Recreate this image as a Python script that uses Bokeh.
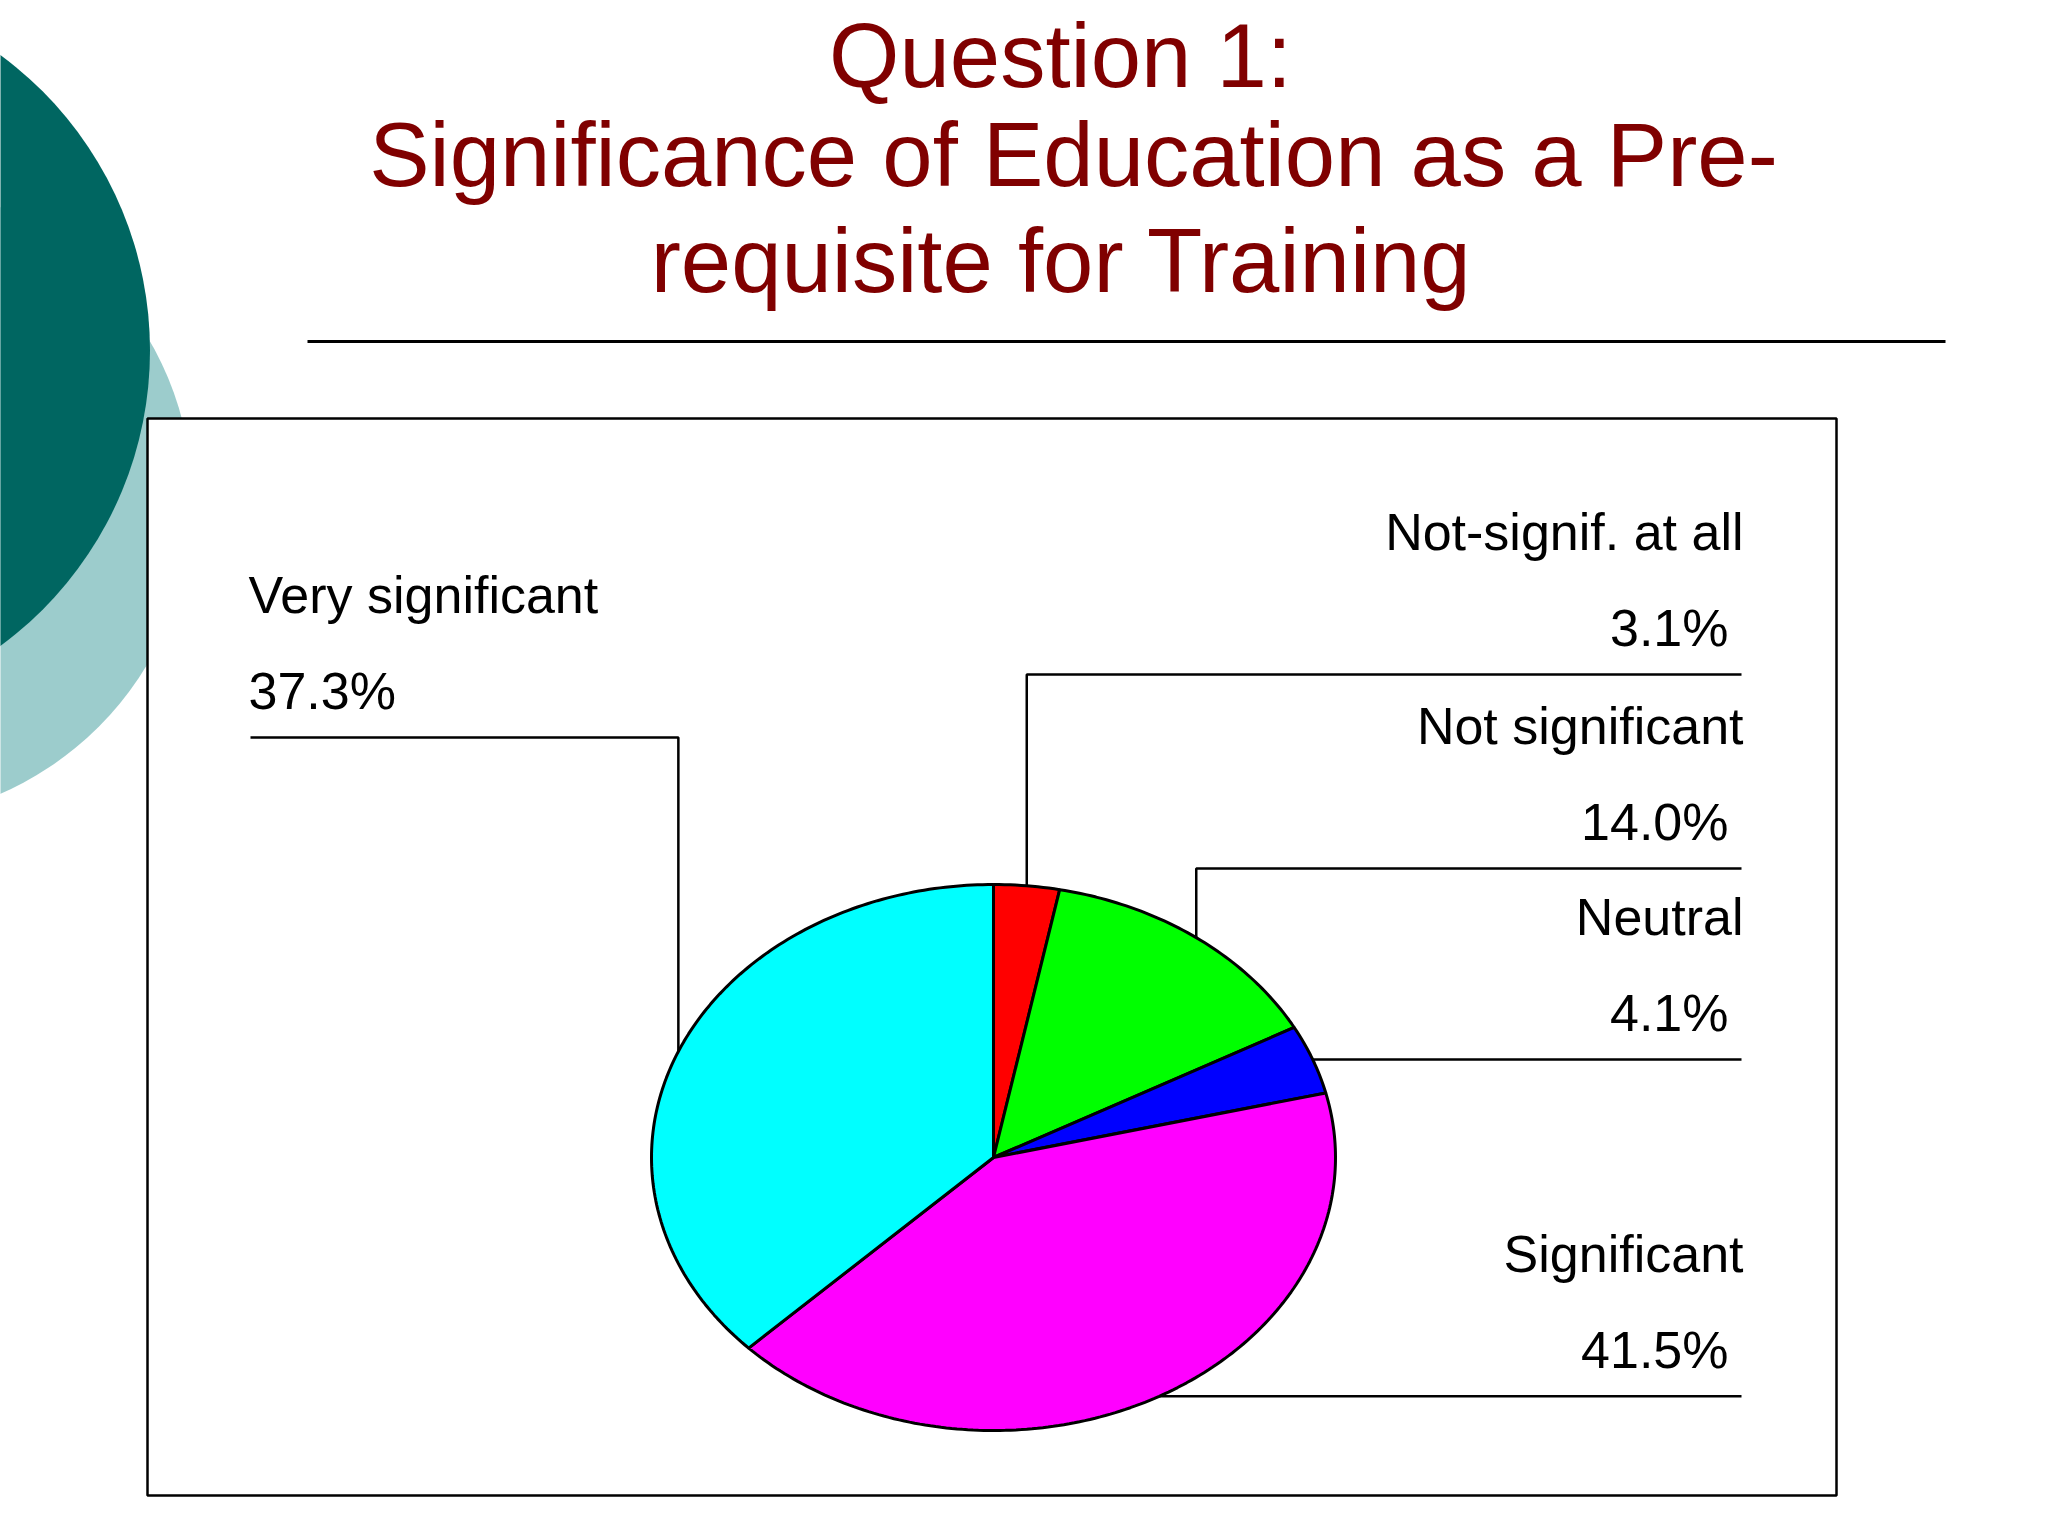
import math
from bokeh.plotting import figure
from bokeh.models import Range1d
from bokeh.core.properties import value
from bokeh.embed import file_html
from bokeh.resources import INLINE

# ---------------- data ----------------
categories = ["Not-signif. at all", "Not significant", "Neutral", "Significant", "Very significant"]
percents = [3.1, 14.0, 4.1, 41.5, 37.3]
pct_labels = ["3.1%", "14.0%", "4.1%", "41.5%", "37.3%"]
colors = ["#FF0000", "#00FF00", "#0000FF", "#FF00FF", "#00FFFF"]
title_lines = ["Question 1:", "Significance of Education as a Pre-", "requisite for Training"]

# ---------------- layout (page pixel coordinates) ----------------
W, H = 2032, 1520
PIE_CX, PIE_CY, PIE_RX, PIE_RY = 993, 1157, 342, 273
label_line_y = [674, 868, None, None, 737]     # None -> at slice mid-point height
label_side = ["right", "right", "right", "right", "left"]
RIGHT_END, LEFT_END = 1741, 250
NAME_RIGHT_X, PCT_RIGHT_X, LEFT_X = 1743, 1728, 248
NAME_DY, PCT_DY = 124, 28
LABEL_SIZE, TITLE_SIZE = 52, 90.5
BASE_K = 0.36          # baseline correction (fraction of font size)
title_x = [1060, 1073, 1061]
title_y = [88, 187, 293]
FONT = "Liberation Sans"

p = figure(width=W, height=H, output_backend="svg", toolbar_location=None,
           x_range=Range1d(0, W), y_range=Range1d(H, 0),
           x_axis_type=None, y_axis_type=None, min_border=0,
           outline_line_color=None, background_fill_color="white",
           border_fill_color="white")
p.grid.visible = False

# decorative background circles
p.ellipse(x=[-128], y=[500], width=[640], height=[640],
          fill_color="#9CCCCC", line_color=None)
p.ellipse(x=[-217], y=[350], width=[733], height=[733],
          fill_color="#006661", line_color=None)

# title
p.text(x=title_x, y=[t - BASE_K * TITLE_SIZE for t in title_y], text=title_lines,
       text_font=value(FONT), text_font_size=f"{TITLE_SIZE}px", text_color="#800000",
       text_align="center", text_baseline="alphabetic")
p.segment(x0=[307], y0=[341], x1=[1945], y1=[341], line_color="black", line_width=3)

# chart box
p.quad(left=[147], right=[1836], top=[418], bottom=[1495],
       fill_color="white", line_color="black", line_width=2.5)

# pie slices (clockwise from top, elliptical)
total = sum(percents)
xs, ys = [], []
mids = []
cum = 0.0
for v in percents:
    a0 = cum / total * 2 * math.pi
    cum += v
    a1 = cum / total * 2 * math.pi
    n = max(4, int((a1 - a0) / (2 * math.pi) * 400))
    px, py = [PIE_CX], [PIE_CY]
    for i in range(n + 1):
        a = a0 + (a1 - a0) * i / n
        px.append(PIE_CX + PIE_RX * math.sin(a))
        py.append(PIE_CY - PIE_RY * math.cos(a))
    xs.append(px)
    ys.append(py)
    am = (a0 + a1) / 2
    mids.append((PIE_CX + PIE_RX * math.sin(am), PIE_CY - PIE_RY * math.cos(am)))

p.patches(xs=xs, ys=ys, fill_color=colors, line_color="black", line_width=3)

# leader lines and labels
lx, ly = [], []
rx_n, ry_n, rt_n, rx_p, ry_p, rt_p = [], [], [], [], [], []
lx_n, ly_n, lt_n, ly_p, lt_p = [], [], [], [], []
off = BASE_K * LABEL_SIZE
for cat, pl, (mx, my), yl, side in zip(categories, pct_labels, mids, label_line_y, label_side):
    yline = my if yl is None else yl
    end = RIGHT_END if side == "right" else LEFT_END
    lx.append([mx, mx, end])
    ly.append([my, yline, yline])
    if side == "right":
        rx_n.append(NAME_RIGHT_X); ry_n.append(yline - NAME_DY - off); rt_n.append(cat)
        rx_p.append(PCT_RIGHT_X); ry_p.append(yline - PCT_DY - off); rt_p.append(pl)
    else:
        lx_n.append(LEFT_X); ly_n.append(yline - NAME_DY - off); lt_n.append(cat)
        ly_p.append(yline - PCT_DY - off); lt_p.append(pl)

p.multi_line(xs=lx, ys=ly, line_color="black", line_width=2.5)

common = dict(text_font=value(FONT), text_font_size=f"{LABEL_SIZE}px", text_color="black",
              text_baseline="alphabetic")
p.text(x=rx_n, y=ry_n, text=rt_n, text_align="right", **common)
p.text(x=rx_p, y=ry_p, text=rt_p, text_align="right", **common)
p.text(x=lx_n, y=ly_n, text=lt_n, text_align="left", **common)
p.text(x=[LEFT_X] * len(lt_p), y=ly_p, text=lt_p, text_align="left", **common)

open("out.html", "w").write(file_html(p, INLINE))
